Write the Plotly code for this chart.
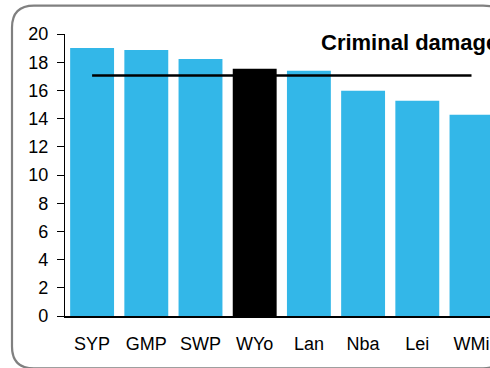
import plotly.graph_objects as go

categories = ["SYP", "GMP", "SWP", "WYo", "Lan", "Nba", "Lei", "WMi"]
values = [19.01, 18.87, 18.23, 17.53, 17.39, 15.97, 15.27, 14.28]
average = 17.05
highlight = "WYo"
title_text = "Criminal damage"
y_ticks = [0, 2, 4, 6, 8, 10, 12, 14, 16, 18, 20]

BLUE = "#33B7E8"
bar_colors = ["#000000" if c == highlight else BLUE for c in categories]

W, H = 490, 368
L, T, B = 65, 33.5, 52
pw, ph = W - L, H - T - B


def px2paper(x, y):
    return (x - L) / pw, (H - B - y) / ph


# rounded border path (paper coords)
x0, y0, x1, y1, r = 12, 5, 505, 368.5, 22
def P(x, y):
    a, b = px2paper(x, y)
    return f"{a:.5f},{b:.5f}"
path = (f"M {P(x0 + r, y0)} L {P(x1 - r, y0)} Q {P(x1, y0)} {P(x1, y0 + r)} "
        f"L {P(x1, y1 - r)} Q {P(x1, y1)} {P(x1 - r, y1)} "
        f"L {P(x0 + r, y1)} Q {P(x0, y1)} {P(x0, y1 - r)} "
        f"L {P(x0, y0 + r)} Q {P(x0, y0)} {P(x0 + r, y0)} Z")

fig = go.Figure()
fig.add_trace(go.Bar(x=categories, y=values, marker=dict(color=bar_colors, line=dict(width=0)),
                     width=0.81, showlegend=False, hoverinfo="x+y"))
fig.add_trace(go.Scatter(x=[categories[0], categories[-1]], y=[average, average], mode="lines",
                         line=dict(color="black", width=2.5), showlegend=False, cliponaxis=False))

tx, ty = px2paper(319, 42)
fig.add_annotation(text=f"<b>{title_text}</b>", x=tx, y=ty, xref="paper", yref="paper",
                   xanchor="left", yanchor="middle", showarrow=False,
                   font=dict(family="Liberation Sans, Arial", size=22, color="black"))

fig.add_shape(type="path", path=path, xref="paper", yref="paper",
              line=dict(color="#808080", width=2.2), layer="below")

fig.update_layout(
    width=W, height=H,
    margin=dict(l=L, r=0, t=T, b=B, pad=0),
    paper_bgcolor="white", plot_bgcolor="white",
    font=dict(family="Liberation Sans, Arial", size=18, color="black"),
    xaxis=dict(range=[-0.5, -0.5 + pw / 54.2], showline=True, linecolor="black", linewidth=1.5,
               ticks="outside", ticklen=11, tickcolor="rgba(0,0,0,0)", showgrid=False,
               tickfont=dict(size=18), fixedrange=True),
    yaxis=dict(range=[0, 20], tickvals=y_ticks, showline=True, linecolor="black", linewidth=1.2,
               ticks="outside", ticklen=7, tickcolor="black", showgrid=False, zeroline=False,
               tickfont=dict(size=18), ticklabelstandoff=5, fixedrange=True),
    bargap=0.19,
)

fig.write_html("out.html", config={"displayModeBar": False},
               post_script="document.body.style.margin='0';document.body.style.overflow='hidden';")
